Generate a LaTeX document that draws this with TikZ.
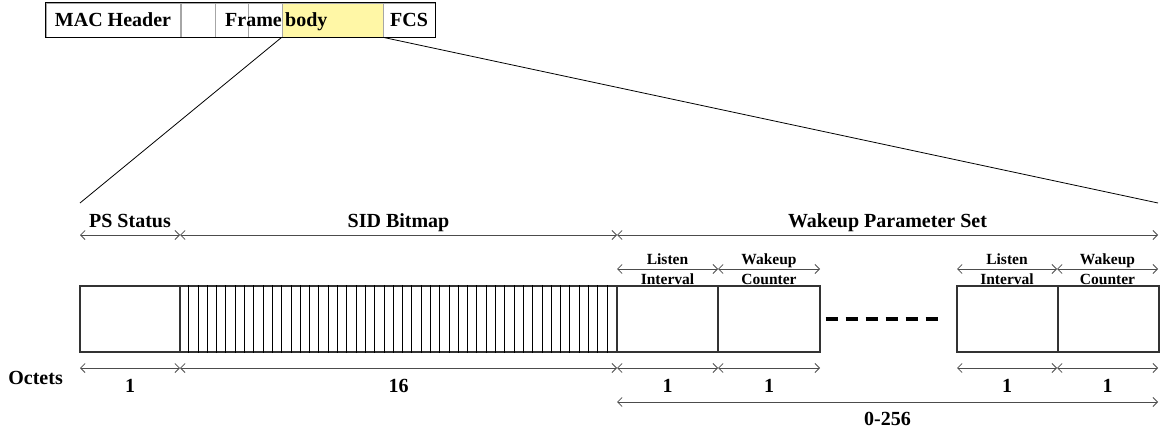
\documentclass[tikz,border=0pt]{standalone}
\usepackage{fontspec}
\setmainfont{Liberation Serif}
\usepackage{tikz}
\usetikzlibrary{positioning,arrows.meta}
\definecolor{bodyyellow}{RGB}{255,247,166}

\begin{document}
\begin{tikzpicture}
            [x=1pt,y=-1pt,every node/.style={inner sep=0pt, font=\fontsize{20}{22}\selectfont\bfseries},
             cell/.style={draw=gray!70, line width=0.8pt, minimum height=34pt, minimum width=#1},
             field/.style={draw=black!80, line width=1.2pt, minimum height=66pt, minimum width=#1},
             dim/.style={draw=black!70, line width=0.8pt, {Straight Barb[length=4.5pt,width=9pt]}-{Straight Barb[length=4.5pt,width=9pt]}},
             small/.style={align=center, font=\fontsize{15.5}{20}\selectfont\bfseries}]
          \useasboundingbox (0,0) rectangle (1166,433);

          % frame on top
          \node[cell=34pt] (h1) at (198,20) {};
          \node[cell=33pt] (h2) at (231.5,20) {};
          \node[cell=34pt] (h3) at (265,20) {};
          \node[cell=101pt, fill=bodyyellow] (body) at (332.5,20) {};
          \node[cell=52pt] (fcs) at (409,20) {FCS};
          \node[cell=134pt] (mac) at (113,20) {MAC Header};
          \draw[line width=1pt] (mac.north west) rectangle (fcs.south east);
          \node[anchor=base east] (frame) at (282,27) {Frame};
          \node[anchor=base west] (bodytxt) at (285,27) {body};

          \coordinate (zoomleft) at (80,203);
          \coordinate (zoomright) at (1158,203);
          \draw[line width=0.8pt] (body.south west) -- (zoomleft);
          \draw[line width=0.8pt] (body.south east) -- (zoomright);

          % fields
          \node[field=100pt] (ps) at (130,319) {};
          \node[field=437pt] (sid) at (398.5,319) {};
          \node[field=101pt] (li1) at (667.5,319) {};
          \node[field=102pt] (wc1) at (769,319) {};
          \node[field=101pt] (li2) at (1007.5,319) {};
          \node[field=101pt] (wc2) at (1108.5,319) {};
          \foreach \i in {1,...,46}
            \draw[line width=0.9pt] ([xshift=\i*9.298pt]sid.north west) -- ([xshift=\i*9.298pt]sid.south west);
          \draw[line width=4pt, dash pattern=on 12pt off 8pt] ([xshift=5pt]wc1.east) -- ([xshift=-17pt]li2.west);

          % dimension lines
          \foreach \n/\x in {a/80,b/180,c/617,d/718,e/820,f/957,g/1057,h/1158} {
            \coordinate (top\n) at (\x,235);
            \coordinate (mid\n) at (\x,269);
            \coordinate (bot\n) at (\x,368);
          }
          \coordinate (rangec) at (617,402);
          \coordinate (rangeh) at (1158,402);

          \foreach \from/\to in {a/b, b/c, c/h}
            \draw[dim] (top\from) -- (top\to);
          \foreach \from/\to in {c/d, d/e, f/g, g/h}
            \draw[dim] (mid\from) -- (mid\to);
          \foreach \from/\to in {a/b, b/c, c/d, d/e, f/g, g/h}
            \draw[dim] (bot\from) -- (bot\to);
          \draw[dim] (rangec) -- (rangeh);

          % labels
          \node[anchor=base] (pstxt) at (130,227) {PS Status};
          \node[anchor=base] (sidtxt) at (398.5,227) {SID Bitmap};
          \node[anchor=base] (wpstxt) at (887.5,227) {Wakeup Parameter Set};
          \node[small] (li1txt) at (667.5,269) {Listen\\Interval};
          \node[small] (wc1txt) at (769,269) {Wakeup\\Counter};
          \node[small] (li2txt) at (1007,269) {Listen\\Interval};
          \node[small] (wc2txt) at (1107.5,269) {Wakeup\\Counter};

          \node[anchor=base east] (octets) at (63,384) {Octets};
          \foreach \x/\t in {130/1, 398.5/16, 667.5/1, 769/1, 1007/1, 1107.5/1}
            \node[anchor=base] at (\x,392) {\t};
          \node[anchor=base] (rangetxt) at (887.5,425) {0-256};
        \end{tikzpicture}
\end{document}
